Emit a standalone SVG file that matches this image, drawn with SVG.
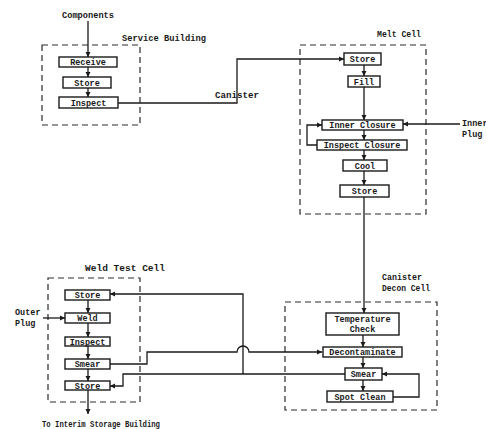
<svg xmlns="http://www.w3.org/2000/svg" width="486" height="429" viewBox="0 0 486 429">
<style>
.bx{fill:#fff;stroke:#1a1a1a;stroke-width:1.4}
.dash{fill:none;stroke:#2a2a2a;stroke-width:1.2;stroke-dasharray:6 4}
.ln{fill:none;stroke:#1a1a1a;stroke-width:1.3}
.t{font-family:"Liberation Mono","DejaVu Sans Mono",monospace;font-weight:bold;font-size:8.5px;fill:#1a1a1a}
.c{text-anchor:middle}
</style>
<defs>
<marker id="ah" markerWidth="6" markerHeight="6" refX="5" refY="3" orient="auto" markerUnits="userSpaceOnUse">
<path d="M0,0.5 L5,3 L0,5.5 Z" fill="#1a1a1a"/>
</marker>
</defs>
<rect width="486" height="429" fill="#fff"/>

<g id="service-building">
<rect class="dash" x="42" y="45" width="98" height="80"/>
<text class="t" x="122" y="41" textLength="84" lengthAdjust="spacingAndGlyphs">Service Building</text>
</g>
<g id="melt-cell">
<rect class="dash" x="300" y="45" width="126" height="169"/>
<text class="t" x="377" y="37" textLength="44" lengthAdjust="spacingAndGlyphs">Melt Cell</text>
</g>
<g id="weld-test-cell">
<rect class="dash" x="48" y="278" width="92" height="124"/>
<text class="t" x="85" y="271" textLength="80" lengthAdjust="spacingAndGlyphs">Weld Test Cell</text>
</g>
<g id="decon-cell">
<rect class="dash" x="285" y="302" width="152" height="108"/>
<text class="t" x="382" y="280" textLength="40" lengthAdjust="spacingAndGlyphs">Canister</text>
<text class="t" x="382" y="291" textLength="48" lengthAdjust="spacingAndGlyphs">Decon Cell</text>
</g>

<g id="label-components"><text class="t c" x="88" y="18" textLength="52" lengthAdjust="spacingAndGlyphs">Components</text></g>
<g id="label-canister"><text class="t" x="215" y="98" textLength="44" lengthAdjust="spacingAndGlyphs">Canister</text></g>
<g id="label-inner-plug"><text class="t" x="462" y="126">Inner</text><text class="t" x="462" y="137">Plug</text></g>
<g id="label-outer-plug"><text class="t" x="15" y="315">Outer</text><text class="t" x="15" y="326">Plug</text></g>
<g id="label-interim"><text class="t" x="42" y="427" textLength="118" lengthAdjust="spacingAndGlyphs">To Interim Storage Building</text></g>

<g id="connectors">
<path class="ln" d="M88,21 V57" marker-end="url(#ah)"/>
<path class="ln" d="M88,67 V77" marker-end="url(#ah)"/>
<path class="ln" d="M88,88 V97" marker-end="url(#ah)"/>
<path class="ln" d="M118,103 H237 V59 H344" marker-end="url(#ah)"/>
<path class="ln" d="M364,65 V76" marker-end="url(#ah)"/>
<path class="ln" d="M364,87 V120" marker-end="url(#ah)"/>
<path class="ln" d="M364,130 V140" marker-end="url(#ah)"/>
<path class="ln" d="M317,145 H307 V125 H322" marker-end="url(#ah)"/>
<path class="ln" d="M460,124 H403" marker-end="url(#ah)"/>
<path class="ln" d="M364,150 V160" marker-end="url(#ah)"/>
<path class="ln" d="M364,171 V185" marker-end="url(#ah)"/>
<path class="ln" d="M364,197 V313" marker-end="url(#ah)"/>
<path class="ln" d="M363,335 V347" marker-end="url(#ah)"/>
<path class="ln" d="M363,357 V368" marker-end="url(#ah)"/>
<path class="ln" d="M363,380 V391" marker-end="url(#ah)"/>
<path class="ln" d="M393,397 H419 V374 H382" marker-end="url(#ah)"/>
<path class="ln" d="M345,374 H123 V386 H110" marker-end="url(#ah)"/>
<path class="ln" d="M243,374 V294 H110" marker-end="url(#ah)"/>
<path class="ln" d="M110,364 H147 V352 H237 A6,6 0 0 1 249,352 H322" marker-end="url(#ah)"/>
<path class="ln" d="M43,318 H65" marker-end="url(#ah)"/>
<path class="ln" d="M88,300 V313" marker-end="url(#ah)"/>
<path class="ln" d="M88,323 V337" marker-end="url(#ah)"/>
<path class="ln" d="M88,346 V359" marker-end="url(#ah)"/>
<path class="ln" d="M88,369 V381" marker-end="url(#ah)"/>
<path class="ln" d="M88,390 V414" marker-end="url(#ah)"/>
</g>

<g id="sb-receive"><rect class="bx" x="59" y="57" width="58" height="10"/><text class="t c" x="88" y="65">Receive</text></g>
<g id="sb-store"><rect class="bx" x="63" y="77" width="48" height="11"/><text class="t c" x="87" y="85.5">Store</text></g>
<g id="sb-inspect"><rect class="bx" x="59" y="97" width="59" height="11"/><text class="t c" x="88.5" y="105.5">Inspect</text></g>

<g id="mc-store"><rect class="bx" x="344" y="53" width="37" height="12"/><text class="t c" x="362.5" y="62">Store</text></g>
<g id="mc-fill"><rect class="bx" x="348" y="76" width="32" height="11"/><text class="t c" x="364" y="84.5">Fill</text></g>
<g id="mc-inner-closure"><rect class="bx" x="322" y="120" width="81" height="10"/><text class="t c" x="362.5" y="128">Inner Closure</text></g>
<g id="mc-inspect-closure"><rect class="bx" x="317" y="140" width="90" height="10"/><text class="t c" x="362" y="148">Inspect Closure</text></g>
<g id="mc-cool"><rect class="bx" x="343" y="160" width="44" height="11"/><text class="t c" x="365" y="168.5">Cool</text></g>
<g id="mc-store2"><rect class="bx" x="340" y="185" width="49" height="12"/><text class="t c" x="364.5" y="194">Store</text></g>

<g id="dc-temp-check"><rect class="bx" x="326" y="313" width="73" height="22"/><text class="t c" x="362.5" y="322">Temperature</text><text class="t c" x="362.5" y="332">Check</text></g>
<g id="dc-decontaminate"><rect class="bx" x="323" y="347" width="79" height="10"/><text class="t c" x="362.5" y="355">Decontaminate</text></g>
<g id="dc-smear"><rect class="bx" x="345" y="368" width="37" height="12"/><text class="t c" x="363.5" y="377">Smear</text></g>
<g id="dc-spot-clean"><rect class="bx" x="327" y="391" width="66" height="11"/><text class="t c" x="360" y="399.5">Spot Clean</text></g>

<g id="wt-store"><rect class="bx" x="65" y="290" width="45" height="10"/><text class="t c" x="87.5" y="298">Store</text></g>
<g id="wt-weld"><rect class="bx" x="65" y="313" width="45" height="10"/><text class="t c" x="87.5" y="321">Weld</text></g>
<g id="wt-inspect"><rect class="bx" x="65" y="337" width="45" height="9"/><text class="t c" x="87.5" y="344.5">Inspect</text></g>
<g id="wt-smear"><rect class="bx" x="65" y="359" width="45" height="10"/><text class="t c" x="87.5" y="367">Smear</text></g>
<g id="wt-store2"><rect class="bx" x="65" y="381" width="45" height="9"/><text class="t c" x="87.5" y="388.5">Store</text></g>
</svg>
